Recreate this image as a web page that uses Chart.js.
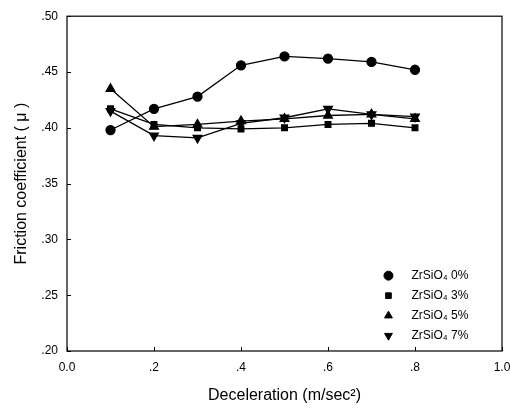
<!DOCTYPE html>
<html>
<head>
<meta charset="utf-8">
<script src="https://cdn.jsdelivr.net/npm/chart.js@4"></script>
<style>
  body { margin: 0; background: #fff; }
  #wrap { width: 510px; height: 409px; }
</style>
</head>
<body>
<div id="wrap"><canvas id="grafica"></canvas></div>
<script>
const deceleracion = [0.1, 0.2, 0.3, 0.4, 0.5, 0.6, 0.7, 0.8];
const zr0 = [0.398, 0.417, 0.428, 0.456, 0.464, 0.462, 0.459, 0.452];
const zr3 = [0.417, 0.403, 0.400, 0.399, 0.400, 0.403, 0.404, 0.400];
const zr5 = [0.435, 0.401, 0.403, 0.406, 0.408, 0.411, 0.412, 0.408];
const zr7 = [0.415, 0.393, 0.391, 0.404, 0.409, 0.417, 0.412, 0.410];
const etiquetas = ["ZrSiO\u2084 0%", "ZrSiO\u2084 3%", "ZrSiO\u2084 5%", "ZrSiO\u2084 7%"];
const xTicks = ["0.0", ".2", ".4", ".6", ".8", "1.0"];
const yTicks = [".20", ".25", ".30", ".35", ".40", ".45", ".50"];

function puntos(valores) {
    return deceleracion.map((x, i) => ({ x: x, y: valores[i] }));
}

function serie(label, valores, estilo, rot, radio) {
    return {
        label: label,
        data: puntos(valores),
        borderColor: "#000",
        backgroundColor: "#000",
        borderWidth: 1.3,
        pointStyle: estilo,
        rotation: rot,
        pointRadius: radio,
        pointHoverRadius: radio,
        tension: 0
    };
}

// leyenda dentro del area del grafico
const leyenda = {
    id: "leyenda",
    afterDraw(chart) {
        const ctx = chart.ctx;
        const xs = chart.scales.x, ys = chart.scales.y;
        ctx.save();
        ctx.font = "12px 'Liberation Sans', Arial, sans-serif";
        ctx.fillStyle = "#000";
        ctx.textBaseline = "middle";
        chart.data.datasets.forEach((ds, i) => {
            const px = xs.getPixelForValue(0.739);
            const py = ys.getPixelForValue(0.2675) + i * 20;
            Chart.helpers.drawPoint(ctx, {
                pointStyle: ds.pointStyle, rotation: ds.rotation,
                radius: ds.pointStyle === "rect" ? 4 : 4.5, borderWidth: 1
            }, px, py);
            ctx.fillText(ds.label, px + 23, py);
        });
        ctx.restore();
    }
};

// marcas de los ejes hacia adentro
const marcas = {
    id: "marcas",
    afterDraw(chart) {
        const ctx = chart.ctx;
        const a = chart.chartArea;
        const xs = chart.scales.x, ys = chart.scales.y;
        ctx.save();
        ctx.strokeStyle = "#000";
        ctx.lineWidth = 1;
        xs.ticks.forEach(t => {
            const px = Math.round(xs.getPixelForValue(t.value)) + 0.5;
            ctx.beginPath(); ctx.moveTo(px, a.bottom); ctx.lineTo(px, a.bottom - 4); ctx.stroke();
        });
        ys.ticks.forEach(t => {
            const py = Math.round(ys.getPixelForValue(t.value)) + 0.5;
            ctx.beginPath(); ctx.moveTo(a.left, py); ctx.lineTo(a.left + 4, py); ctx.stroke();
        });
        ctx.lineWidth = 1.2;
        ctx.strokeRect(a.left, a.top, a.right - a.left, a.bottom - a.top);
        ctx.restore();
    }
};

const fuente = "'Liberation Sans', Arial, sans-serif";

new Chart(document.getElementById("grafica"), {
    type: "scatter",
    data: {
        datasets: [
            serie(etiquetas[0], zr0, "circle", 0, 4.5),
            serie(etiquetas[1], zr3, "rect", 0, 4),
            serie(etiquetas[2], zr5, "triangle", 0, 5),
            serie(etiquetas[3], zr7, "triangle", 180, 5)
        ].map(d => Object.assign(d, { showLine: true }))
    },
    options: {
        responsive: true,
        maintainAspectRatio: false,
        animation: false,
        layout: { padding: { top: 12, right: 8, left: 0, bottom: 0 } },
        plugins: { legend: { display: false }, tooltip: { enabled: false } },
        scales: {
            x: {
                type: "linear", min: 0, max: 1,
                afterFit: s => { s.height = 58; s.paddingRight = 0; s.paddingLeft = 0; },
                ticks: {
                    stepSize: 0.2, color: "#000", padding: 9,
                    font: { family: fuente, size: 12 },
                    callback: (v, i) => xTicks[i]
                },
                grid: { display: false, drawTicks: false },
                border: { display: false },
                title: {
                    display: true, text: "Deceleration (m/sec\u00b2)", color: "#000",
                    font: { family: fuente, size: 16 }, padding: { top: 10 }
                }
            },
            y: {
                type: "linear", min: 0.2, max: 0.5,
                afterFit: s => { s.width = 67; },
                ticks: {
                    stepSize: 0.05, color: "#000", padding: 9,
                    font: { family: fuente, size: 12 },
                    callback: (v, i) => yTicks[i]
                },
                grid: { display: false, drawTicks: false },
                border: { display: false },
                title: {
                    display: true, text: "Friction coefficient ( \u03bc )", color: "#000",
                    font: { family: fuente, size: 16 }, padding: { top: 12, bottom: 6 }
                }
            }
        }
    },
    plugins: [leyenda, marcas]
});
</script>
</body>
</html>
